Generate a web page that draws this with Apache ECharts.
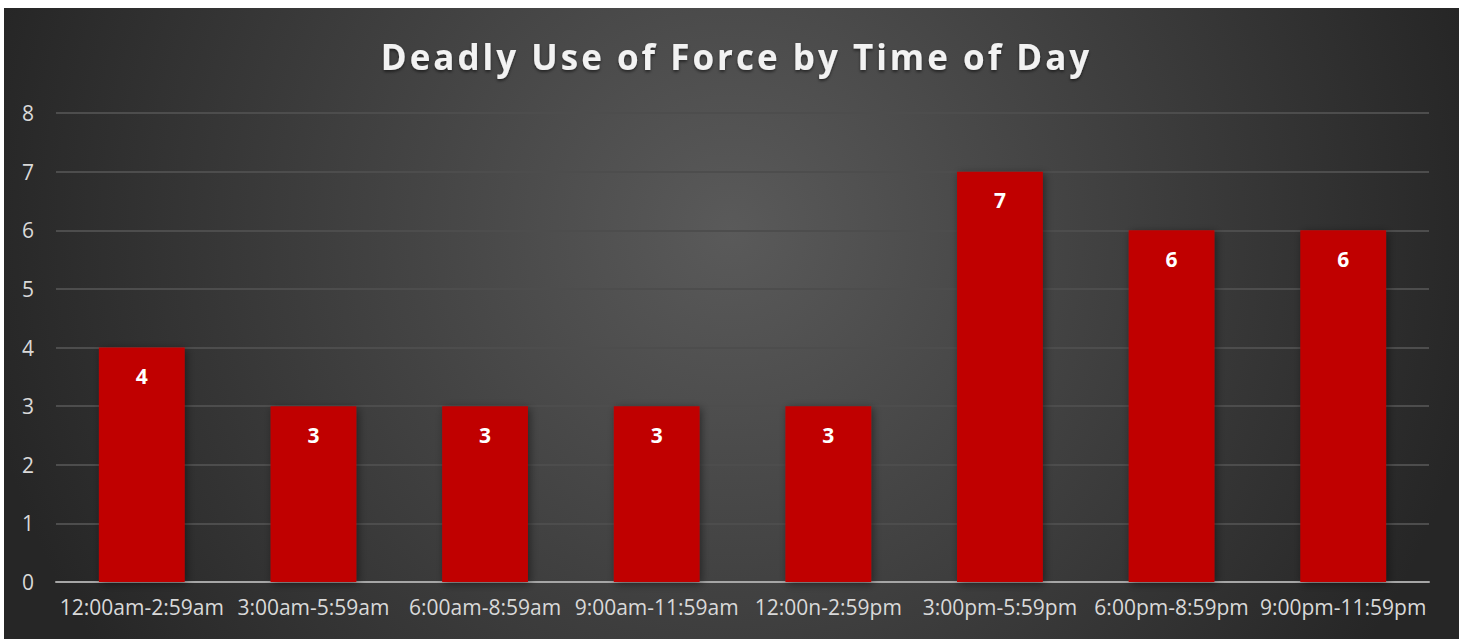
<!DOCTYPE html>
<html>
<head>
<meta charset="utf-8">
<title>Deadly Use of Force by Time of Day</title>
<script src="https://cdn.jsdelivr.net/npm/echarts@6/dist/echarts.min.js"></script>
<style>
  html, body { margin: 0; padding: 0; background: #ffffff; }
  #chart {
    position: absolute;
    left: 4px;
    top: 8px;
    width: 1455px;
    height: 631px;
  }
</style>
</head>
<body>
<div id="chart"></div>
<script>
// data
const timeSlots = ['12:00am-2:59am', '3:00am-5:59am', '6:00am-8:59am', '9:00am-11:59am',
  '12:00n-2:59pm', '3:00pm-5:59pm', '6:00pm-8:59pm', '9:00pm-11:59pm']
const incidents = [4, 3, 3, 3, 3, 7, 6, 6]
const yTicks = [0, 1, 2, 3, 4, 5, 6, 7, 8]
const titleText = 'Deadly Use of Force by Time of Day'

const chart = echarts.init(document.getElementById('chart'), null, { renderer: 'svg' })
const font = '"Open Sans", Lato, "DejaVu Sans", sans-serif'

const option = {
  // round glow, lighter a bit above the middle
  backgroundColor: {
    type: 'radial',
    x: 727,
    y: 222,
    r: 760,
    global: true,
    colorStops: [
      { offset: 0, color: '#5a5a5a' },
      { offset: 1, color: '#262626' }
    ]
  },
  animation: false,
  title: {
    text: titleText,
    left: '50%',
    textAlign: 'center',
    top: 26,
    textStyle: {
      color: '#f2f2f2',
      fontFamily: font,
      fontWeight: 'bold',
      fontSize: 35,
      textShadowColor: 'rgba(0,0,0,0.5)',
      textShadowBlur: 3,
      textShadowOffsetY: 2
    }
  },
  grid: {
    left: 52,
    right: 30,
    top: 105,
    bottom: 57
  },
  xAxis: {
    type: 'category',
    data: timeSlots,
    axisLine: { lineStyle: { color: '#a6a6a6', width: 2 } },
    axisTick: { show: false },
    axisLabel: {
      color: '#d9d9d9',
      fontFamily: font,
      fontSize: 21,
      margin: 14,
      interval: 0
    }
  },
  yAxis: {
    type: 'value',
    min: yTicks[0],
    max: yTicks[yTicks.length - 1],
    interval: 1,
    axisLine: { show: false },
    axisTick: { show: false },
    axisLabel: {
      color: '#d9d9d9',
      fontFamily: font,
      fontSize: 21,
      margin: 22
    },
    splitLine: { lineStyle: { color: '#4d4d4d', width: 2 } }
  },
  series: [
    {
      type: 'bar',
      data: incidents,
      barWidth: '50%',
      itemStyle: {
        color: '#c00000',
        shadowColor: 'rgba(0,0,0,0.45)',
        shadowBlur: 8,
        shadowOffsetX: 2,
        shadowOffsetY: 2
      },
      label: {
        show: true,
        position: 'insideTop',
        distance: 18,
        color: '#ffffff',
        fontFamily: font,
        fontWeight: 'bold',
        fontSize: 21
      }
    }
  ]
}

chart.setOption(option)

// the title in the original is spaced out a bit
document.querySelectorAll('#chart svg text').forEach(function (t) {
  if (t.textContent === titleText) {
    t.style.letterSpacing = '3px'
  }
})
</script>
</body>
</html>
